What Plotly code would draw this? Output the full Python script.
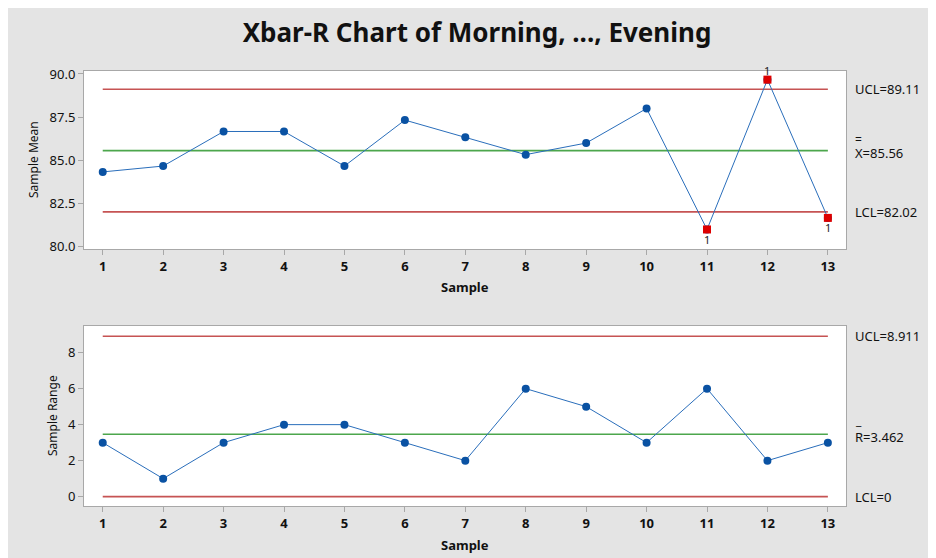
import plotly.graph_objects as go
from plotly.subplots import make_subplots

samples = list(range(1, 14))
sample_means = [84.33, 84.67, 86.67, 86.67, 84.67, 87.33, 86.33, 85.33, 86.00, 88.00, 81.00, 89.67, 81.67]
sample_ranges = [3, 1, 3, 4, 4, 3, 2, 6, 5, 3, 6, 2, 3]
xbar_limits = {"UCL": 89.11, "CL": 85.56, "LCL": 82.02}
r_limits = {"UCL": 8.911, "CL": 3.462, "LCL": 0}
mean_ticks = [80.0, 82.5, 85.0, 87.5, 90.0]
range_ticks = [0, 2, 4, 6, 8]

FONT = "Noto Sans"
BLUE_LINE = "#2a6ebb"
BLUE_MK = "#0a52a3"
RED = "#c65353"
GREEN = "#4ca64c"
FLAG = "#dd0000"

# page body margin offsets the figure by 8px
OFF = 8
W, H = 936, 558
L = 84 - OFF
T = 71 - OFF
R = W - (846 - OFF)
B = H - (506 - OFF)
PW, PH = W - L - R, H - T - B


def py(ypix):
    return (H - B - (ypix - OFF)) / PH


def px(xpix):
    return ((xpix - OFF) - L) / PW


fig = make_subplots(rows=2, cols=1, vertical_spacing=0.1)
fig.update_layout(
    xaxis=dict(domain=[0, 1]),
    xaxis2=dict(domain=[0, 1]),
    yaxis=dict(domain=[py(249), 1]),
    yaxis2=dict(domain=[0, py(326)]),
)

# control lines
for row, lim in ((1, xbar_limits), (2, r_limits)):
    for key, col in (("UCL", RED), ("CL", GREEN), ("LCL", RED)):
        fig.add_trace(go.Scatter(x=[samples[0], samples[-1]], y=[lim[key]] * 2, mode="lines",
                                 line=dict(color=col, width=1.6), hoverinfo="skip"), row=row, col=1)

# data lines
fig.add_trace(go.Scatter(x=samples, y=sample_means, mode="lines+markers",
                         line=dict(color=BLUE_LINE, width=1),
                         marker=dict(color=BLUE_MK, size=8)), row=1, col=1)
fig.add_trace(go.Scatter(x=samples, y=sample_ranges, mode="lines+markers",
                         line=dict(color=BLUE_LINE, width=1),
                         marker=dict(color=BLUE_MK, size=8)), row=2, col=1)

# flagged points
fx = [s for s, m in zip(samples, sample_means) if m > xbar_limits["UCL"] or m < xbar_limits["LCL"]]
fy = [m for m in sample_means if m > xbar_limits["UCL"] or m < xbar_limits["LCL"]]
fig.add_trace(go.Scatter(x=fx, y=fy, mode="markers",
                         marker=dict(color=FLAG, size=8, symbol="square"),
                         hoverinfo="skip"), row=1, col=1)

annotations = []
for s, m in zip(fx, fy):
    above = m > xbar_limits["UCL"]
    annotations.append(dict(x=s, y=m, xref="x", yref="y", text="1", showarrow=False,
                            xanchor="center", yanchor="middle",
                            font=dict(family=FONT, size=11, color="#222"),
                            yshift=9 if above else -10))

axis_common = dict(showline=True, linecolor="#a8a8a8", linewidth=1, mirror=True,
                   ticks="outside", tickcolor="#a8a8a8", ticklen=5, showgrid=False,
                   zeroline=False, automargin=False,
                   tickfont=dict(family=FONT, size=13, color="#111"))

fig.update_xaxes(range=[0.69, 13.3], tickvals=samples, **axis_common)
fig.update_xaxes(tickfont=dict(family=FONT, size=13, color="#111", weight="bold"))
fig.update_yaxes(range=[79.87, 90.17], tickvals=mean_ticks, tickformat=".1f", row=1, col=1, **axis_common)
fig.update_yaxes(range=[-0.52, 9.48], tickvals=range_ticks, row=2, col=1, **axis_common)

lab_font = dict(family=FONT, size=13, color="#111")


def right_label(text, y, yref, yshift=0, font=lab_font):
    return dict(x=px(853), y=y, xref="paper", yref=yref, text=text, xanchor="left",
                yanchor="middle", showarrow=False, font=font, yshift=yshift)


annotations += [
    right_label("UCL=89.11", xbar_limits["UCL"], "y"),
    right_label("X=85.56", xbar_limits["CL"], "y", yshift=-2),
    right_label("=", xbar_limits["CL"], "y", yshift=11, font=dict(family=FONT, size=12, color="#111")),
    right_label("LCL=82.02", xbar_limits["LCL"], "y"),
    right_label("UCL=8.911", r_limits["UCL"], "y2"),
    right_label("R=3.462", r_limits["CL"], "y2", yshift=-3),
    right_label("_", r_limits["CL"], "y2", yshift=14, font=dict(family=FONT, size=12, color="#111")),
    right_label("LCL=0", r_limits["LCL"], "y2"),
]


def free_label(text, xpix, ypix, angle=0, size=12):
    return dict(x=px(xpix), y=py(ypix), xref="paper", yref="paper", text=text, textangle=angle,
                xanchor="center", yanchor="middle", showarrow=False,
                font=dict(family=FONT, size=size, color="#111"))


annotations += [
    free_label("Sample Mean", 33, 159, angle=-90),
    free_label("Sample Range", 52, 416, angle=-90),
    free_label("<b>Sample</b>", 465, 287, size=13),
    free_label("<b>Sample</b>", 465, 545, size=13),
]

fig.update_layout(
    width=W, height=H,
    margin=dict(l=L, r=R, t=T, b=B, autoexpand=False),
    paper_bgcolor="#e4e4e4",
    plot_bgcolor="white",
    showlegend=False,
    title=dict(text="<b>Xbar-R Chart of Morning, ..., Evening</b>", x=(477 - OFF) / W, xref="container",
               xanchor="center", y=1 - (33 - OFF) / H, yref="container", yanchor="middle",
               font=dict(family=FONT, size=26, color="#111")),
    annotations=annotations,
)

fig.write_html("out.html")
